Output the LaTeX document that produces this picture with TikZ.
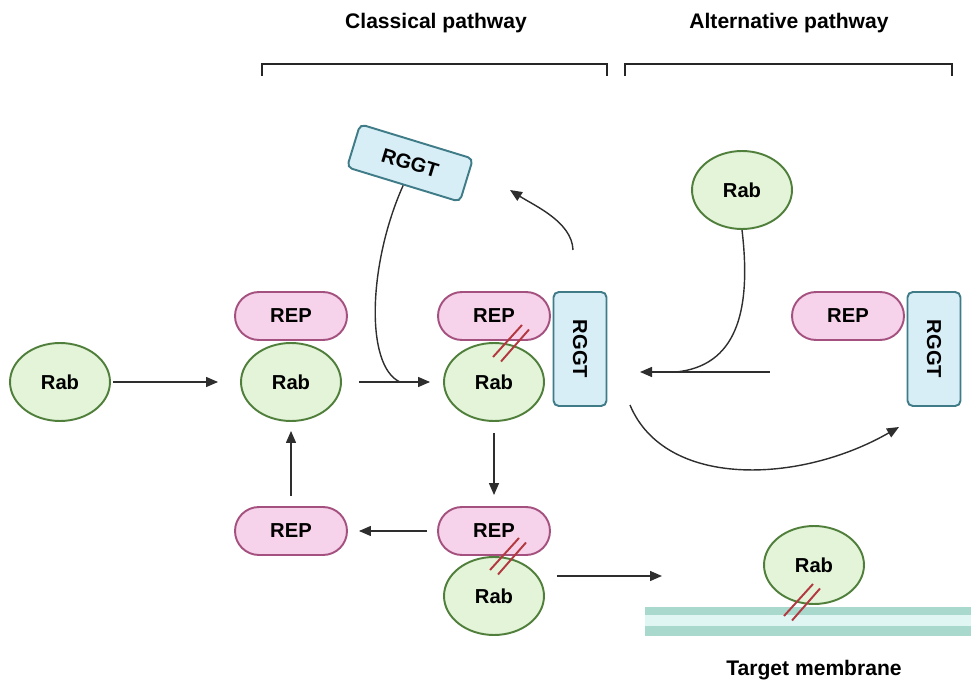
\documentclass[tikz,border=0pt]{standalone}
\usepackage{fontspec}
\setmainfont{Liberation Sans}
\usetikzlibrary{arrows.meta,shapes.geometric}

\definecolor{rabfill}{HTML}{E3F4D9}
\definecolor{rabdraw}{HTML}{4F7F3A}
\definecolor{repfill}{HTML}{F6D3EA}
\definecolor{repdraw}{HTML}{A5517F}
\definecolor{rggtfill}{HTML}{D7EEF6}
\definecolor{rggtdraw}{HTML}{3F7C88}
\definecolor{membdark}{HTML}{A9D9CD}
\definecolor{memblight}{HTML}{E0F6F2}
\definecolor{lipidred}{HTML}{B3383F}
\definecolor{arrowgray}{HTML}{2E2E2E}

\tikzset{
  label/.style={font=\fontsize{11.5}{14}\selectfont\bfseries},
  rab/.style={label, ellipse, draw=rabdraw, fill=rabfill, line width=1.1pt,
    minimum width=2cm, minimum height=1.56cm, inner sep=0pt},
  rep/.style={label, rectangle, rounded corners=0.48cm, draw=repdraw, fill=repfill,
    line width=1.1pt, minimum width=2.24cm, minimum height=0.96cm, inner sep=0pt},
  rggt/.style={label, rectangle, rounded corners=3pt, draw=rggtdraw, fill=rggtfill,
    line width=1.1pt, minimum width=2.28cm, minimum height=1.06cm, inner sep=0pt},
  arr/.style={-{Triangle[length=2.4mm,width=2mm]}, line width=0.8pt, arrowgray},
  link/.style={line width=0.8pt, arrowgray},
  title/.style={font=\fontsize{12}{14}\selectfont\bfseries},
  bracket/.style={line width=0.85pt, black!85},
  geranyl/.pic={\draw[lipidred, line width=1.1pt] (-18,-14) -- (11,18) (-10,-18.5) -- (18,13.5);}
}

\begin{document}
\begin{tikzpicture}[x=0.02cm, y=0.02cm]
  \useasboundingbox (0,0) rectangle (971,684);

  % headings with their brackets
  \node[title] (classical) at (436,661) {Classical pathway};
  \node[title] (alternative) at (789,661) {Alternative pathway};
  \draw[bracket] (262,608) -- (262,620) -- (607,620) -- (607,608);
  \draw[bracket] (625,608) -- (625,620) -- (952,620) -- (952,608);

  % target membrane
  \fill[membdark] (645,48) rectangle (971,77);
  \fill[memblight] (645,58) rectangle (971,69);
  \node[title] (membrane) at (814,14) {Target membrane};

  % classical pathway
  \node[rab] (rab1) at (60,302) {Rab};
  \node[rep] (rep2) at (291,368) {REP};
  \node[rab] (rab2) at (291,302) {Rab};
  \node[rep] (rep3) at (494,368) {REP};
  \node[rab] (rab3) at (494,302) {Rab};
  \node[rggt, rotate=-90] (rggt3) at (580,349-14) {RGGT};
  \node[rggt, rotate=-17, minimum width=2.36cm, minimum height=0.9cm] (rggtfree) at (410,521) {RGGT};
  \node[rep] (rep4) at (494,153) {REP};
  \node[rab] (rab4) at (494,88) {Rab};
  \node[rep] (repfree) at (291,153) {REP};

  % alternative pathway
  \node[rab] (rabfree) at (742,494) {Rab};
  \node[rep] (repalt) at (848,368) {REP};
  \node[rggt, rotate=-90] (rggtalt) at (934,335) {RGGT};
  \node[rab] (rabmem) at (814,119) {Rab};

  % free ends of the connectors
  \coordinate (join3) at (400,302);
  \coordinate (up3) at (573,434);
  \coordinate (back3) at (510,494);
  \coordinate (altin) at (770,312);
  \coordinate (altout) at (640,312);
  \coordinate (altjoin) at (676,312);
  \coordinate (swoopin) at (630,279);
  \coordinate (swoopout) at (899,257);
  \coordinate (tomem) at (662,108);

  % classical connectors
  \draw[arr, shorten <=0.04cm, shorten >=0.44cm] (rab1) -- (rab2);
  \draw[arr, shorten <=0.34cm, shorten >=0.26cm] (rab2) -- (rab3);
  \draw[link] (rggtfree.south) .. controls (368,420) and (365,318) .. (join3);
  \draw[arr] (up3) .. controls (572,462) and (535,478) .. (back3);
  \draw[arr, shorten <=0.22cm, shorten >=0.22cm] (rab3) -- (rep4);
  \draw[arr, shorten <=0.2cm, shorten >=0.22cm] (rep4) -- (repfree);
  \draw[arr, shorten <=0.2cm, shorten >=0.18cm] (repfree) -- (rab2);
  \draw[arr, shorten <=0.24cm] (rab4.east |- tomem) -- (tomem);

  % alternative connectors
  \draw[arr] (altin) -- (altout);
  \draw[link] (rabfree.south) .. controls (752,370) and (735,318) .. (altjoin);
  \draw[arr] (swoopin) .. controls (665,195) and (800,200) .. (swoopout);

  % geranylgeranyl anchors
  \pic at (511,341) {geranyl};
  \pic at (508,128) {geranyl};
  \pic at (802,82) {geranyl};
\end{tikzpicture}
\end{document}
